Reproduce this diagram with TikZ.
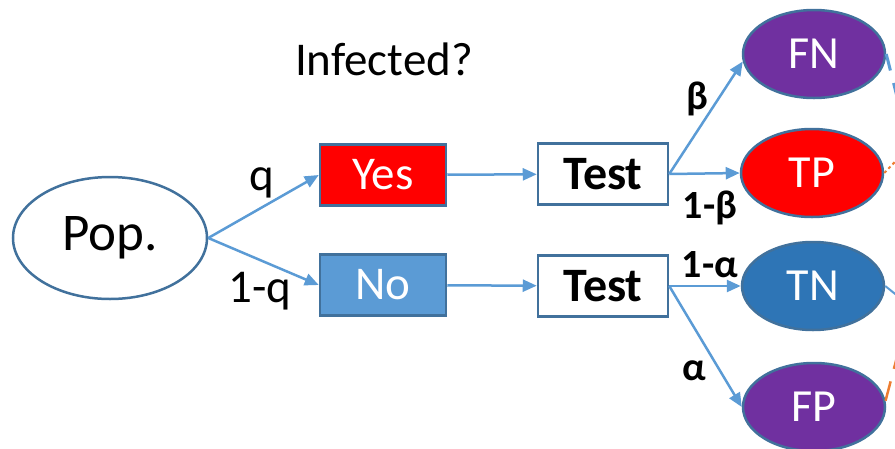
\documentclass[tikz,border=0pt]{standalone}
\usepackage{fontspec}
\setmainfont{Carlito}
\usetikzlibrary{arrows.meta,shapes.geometric}
\definecolor{rim}{HTML}{41719C}
\definecolor{flow}{HTML}{5B9BD5}
\definecolor{hit}{HTML}{FF0000}
\definecolor{miss}{HTML}{7030A0}
\definecolor{neg}{HTML}{2E75B6}
\definecolor{side}{HTML}{ED7D31}
\begin{document}
\begin{tikzpicture}[x=1pt,y=-1pt,->,>={Triangle[length=14pt,width=12pt]},line width=2.5pt,
    every edge/.style={draw=flow,line width=2.5pt},
    box/.style={draw=rim,rectangle,line width=2.5pt,minimum width=126pt,minimum height=61pt,inner sep=0pt,font=\fontsize{47}{50}\selectfont},
    leaf/.style={draw=rim,ellipse,line width=2.5pt,minimum width=142pt,minimum height=88pt,inner sep=0pt,text=white,font=\fontsize{46}{50}\selectfont},
    prob/.style={anchor=base,font=\fontsize{40}{44}\selectfont\bfseries}]
\useasboundingbox (0,0) rectangle (895,448);
\clip (0,0) rectangle (895,448);
\node[ellipse,draw=rim,fill=white,line width=2.5pt,minimum width=194pt,minimum height=122pt,inner sep=0pt,font=\fontsize{53}{58}\selectfont] (pop) at (110,238) {Pop.};
        \node[anchor=base,font=\fontsize{47}{50}\selectfont] (infected) at (384,75) {Infected?};
        \node[box,fill=hit,text=white] (yes) at (383,175) {Yes};
        \node[box,fill=flow,text=white] (no) at (383,285) {No};
        \node[box,fill=white,minimum width=130pt,font=\fontsize{48}{52}\selectfont\bfseries] (test_y) at (603,174) {Test};
        \node[box,fill=white,minimum width=130pt,font=\fontsize{48}{52}\selectfont\bfseries] (test_n) at (603,286) {Test};
        \node[leaf,fill=miss] (fn) at (814,54) {FN};
        \node[leaf,fill=hit] (tp) at (812,173) {TP};
        \node[leaf,fill=neg] (tn) at (813,286) {TN};
        \node[leaf,fill=miss] (fp) at (814,407) {FP};
        % branch probabilities
        \node[anchor=base,font=\fontsize{47}{50}\selectfont] (p_q) at (262,190) {q};
        \node[anchor=base,font=\fontsize{47}{50}\selectfont] (p_nq) at (260,302) {1-q};
        \node[prob] (p_b) at (697,109) {β};
        \node[prob] (p_nb) at (710,218) {1-β};
        \node[prob] (p_na) at (710,277) {1-α};
        \node[prob] (p_a) at (694,380) {α};
        % links leaving the picture
        \coordinate (off_fn) at (918,180);
        \coordinate (off_tp) at (940,115);
        \coordinate (off_tn) at (940,330);
        \coordinate (off_fp) at (925,250);
        \path
            (pop.east) edge (yes.west)
                       edge (no.west)
            (yes) edge (test_y)
            (no) edge (test_n)
            (test_y.east) edge (fn.186)
                          edge (tp.west)
            (test_n.east) edge (tn.west)
                          edge (fp.west);
        \path
            (fn.east) edge[line width=3pt,dash pattern=on 17pt off 13pt] (off_fn)
            (tp.east) edge[draw=side,line width=2pt,dashed] (off_tp)
            (tn.east) edge[line width=2pt] (off_tn)
            (fp.5) edge[draw=side,line width=2.5pt,dash pattern=on 20pt off 13pt] (off_fp);
\end{tikzpicture}
\end{document}
